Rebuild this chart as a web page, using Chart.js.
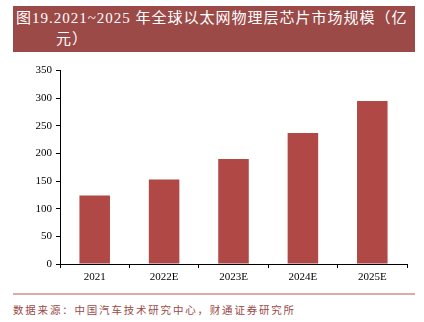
<!DOCTYPE html>
<html>
<head>
<meta charset="utf-8">
<script src="https://cdn.jsdelivr.net/npm/chart.js@4/dist/chart.umd.min.js"></script>
<style>
  body { margin: 0; background: #fff; width: 424px; height: 322px; position: relative; overflow: hidden; }
  #title {
    position: absolute; left: 13px; top: 6px; width: 402px; height: 46px;
    background: #9b4a47; color: #fff;
    font-family: "Liberation Serif", "Noto Sans CJK SC", serif; font-size: 15px; line-height: 21px;
    letter-spacing: 1px; white-space: nowrap;
    box-sizing: border-box; padding: 2px 0 0 3px;
  }
  #title .l2 { padding-left: 40px; }
  #wrap { position: absolute; left: 0; top: 60px; width: 424px; height: 230px; }
  #rule { position: absolute; left: 13px; top: 293px; width: 402px; height: 2px; background: #dcaaa7; }
  #src {
    position: absolute; left: 13px; top: 302px; color: #9b4a47;
    font-family: "Noto Sans CJK SC", sans-serif; font-size: 10.5px; letter-spacing: 1.8px;
  }
</style>
</head>
<body>
<div id="title"><div>图19.2021~2025 年全球以太网物理层芯片市场规模（亿</div><div class="l2">元）</div></div>
<div id="wrap"><canvas id="barChart"></canvas></div>
<div id="rule"></div>
<div id="src">数据来源：中国汽车技术研究中心，财通证券研究所</div>
<script>
var years = ['2021', '2022E', '2023E', '2024E', '2025E'];
var marketSize = [124, 153, 190, 237, 295];
var yTicks = [0, 50, 100, 150, 200, 250, 300, 350];

var tickFont = { family: '"Liberation Serif", serif', size: 11 };

const config = {
  type: 'bar',
  data: {
    labels: years,
    datasets: [{
      data: marketSize,
      backgroundColor: '#b04845',
      borderWidth: 0,
      categoryPercentage: 1,
      barPercentage: 0.44
    }]
  },
  options: {
    responsive: true,
    maintainAspectRatio: false,
    animation: false,
    layout: { padding: { top: 10, right: 17, left: 0, bottom: 0 } },
    plugins: { legend: { display: false }, tooltip: { enabled: false } },
    scales: {
      x: {
        grid: { drawOnChartArea: false, drawTicks: true, tickLength: 4, color: '#000' },
        border: { color: '#000', width: 1 },
        ticks: { color: '#000', font: tickFont, padding: 3 },
        afterFit: function (s) { s.height = 26; }
      },
      y: {
        min: 0,
        max: 350,
        afterBuildTicks: function (s) { s.ticks = yTicks.map(function (v) { return { value: v }; }); },
        grid: { drawOnChartArea: false, drawTicks: true, tickLength: 4, color: '#000' },
        border: { color: '#000', width: 1 },
        ticks: { color: '#000', font: tickFont, padding: 4 },
        afterFit: function (s) { s.width = 60; }
      }
    }
  }
};

const myChart = new Chart(document.getElementById('barChart'), config);
</script>
</body>
</html>
